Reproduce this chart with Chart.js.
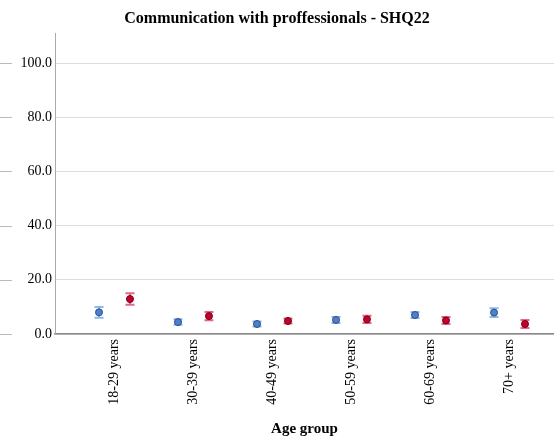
<!DOCTYPE html>
<html>
<head>
<meta charset="utf-8">
<script src="https://cdn.jsdelivr.net/npm/chart.js@4"></script>
<style>
  html, body { margin: 0; padding: 0; background: #fff; }
  #wrap { width: 554px; height: 441px; }
</style>
</head>
<body>
<div id="wrap"><canvas id="chart"></canvas></div>
<script>
// Age groups along the x axis
const categories = ['18-29 years', '30-39 years', '40-49 years', '50-59 years', '60-69 years', '70+ years'];

// Group means (%) and 95% CI half-widths
const blueMeans = [8.0, 4.4, 3.7, 5.2, 7.0, 7.9];
const blueErr = [2.0, 1.0, 0.9, 1.1, 1.1, 1.6];
const redMeans = [12.9, 6.6, 4.8, 5.4, 5.0, 3.7];
const redErr = [2.1, 1.5, 0.9, 1.3, 1.3, 1.5];

const yTicks = [0, 20, 40, 60, 80, 100];

const serif = '"Liberation Serif", "Times New Roman", serif';
const shift = 0.196;

function toPoints(vals, off) {
  return vals.map((v, i) => ({ x: i + off, y: v }));
}

// draws CI whiskers and the little outer dashes on the left
const extras = {
  id: 'extras',
  beforeDatasetsDraw(chart) {
    const ctx = chart.ctx;
    const xs = chart.scales.x, ys = chart.scales.y;
    const sets = [
      { m: blueMeans, e: blueErr, off: -shift, color: '#8fb8e6' },
      { m: redMeans, e: redErr, off: shift, color: '#e06a86' }
    ];
    ctx.save();
    ctx.lineWidth = 2;
    sets.forEach(s => {
      ctx.strokeStyle = s.color;
      s.m.forEach((v, i) => {
        const x = xs.getPixelForValue(i + s.off);
        const y1 = ys.getPixelForValue(v - s.e[i]);
        const y2 = ys.getPixelForValue(v + s.e[i]);
        ctx.beginPath();
        ctx.moveTo(x, y1); ctx.lineTo(x, y2);
        ctx.moveTo(x - 4.5, y1); ctx.lineTo(x + 4.5, y1);
        ctx.moveTo(x - 4.5, y2); ctx.lineTo(x + 4.5, y2);
        ctx.stroke();
      });
    });
    ctx.strokeStyle = '#bbbbbb';
    ctx.lineWidth = 1;
    yTicks.forEach(t => {
      const y = Math.round(ys.getPixelForValue(t)) + 0.5;
      ctx.beginPath();
      ctx.moveTo(0, y); ctx.lineTo(12, y);
      ctx.stroke();
    });
    ctx.restore();
  }
};

new Chart(document.getElementById('chart'), {
  type: 'scatter',
  data: {
    datasets: [
      {
        label: 'Group A',
        data: toPoints(blueMeans, -shift),
        backgroundColor: '#4a80cc',
        borderColor: '#2b4f86',
        borderWidth: 1,
        pointRadius: 3.5
      },
      {
        label: 'Group B',
        data: toPoints(redMeans, shift),
        backgroundColor: '#c4002c',
        borderColor: '#7a0019',
        borderWidth: 1,
        pointRadius: 3.5
      }
    ]
  },
  options: {
    responsive: true,
    maintainAspectRatio: false,
    animation: false,
    layout: { padding: 0, autoPadding: false },
    plugins: {
      legend: { display: false },
      tooltip: { enabled: false },
      title: {
        display: true,
        text: 'Communication with proffessionals - SHQ22',
        color: '#000',
        font: { family: serif, size: 16, weight: 'bold' },
        padding: { top: 9, bottom: 5 }
      }
    },
    scales: {
      x: {
        type: 'linear',
        min: -0.753,
        max: 5.563,
        afterBuildTicks(axis) {
          axis.ticks = categories.map((c, i) => ({ value: i }));
        },
        afterFit(axis) {
          axis.height = 107;
          axis.paddingLeft = 0;
          axis.paddingRight = 0;
        },
        grid: { display: false, drawTicks: false },
        border: { color: '#888888', width: 1.5 },
        ticks: {
          autoSkip: false,
          minRotation: 90,
          maxRotation: 90,
          padding: 5,
          color: '#000',
          font: { family: serif, size: 14 },
          callback: (v) => categories[Math.round(v)]
        },
        title: {
          display: true,
          text: 'Age group',
          color: '#000',
          font: { family: serif, size: 15, weight: 'bold' },
          padding: { top: 4, bottom: 3 }
        }
      },
      y: {
        min: 0,
        max: 111,
        afterBuildTicks(axis) {
          axis.ticks = yTicks.map(v => ({ value: v }));
        },
        afterFit(axis) { axis.width = 55; },
        grid: { color: '#dddddd', drawTicks: false },
        border: { color: '#aaaaaa', width: 1 },
        ticks: {
          padding: 3,
          color: '#000',
          font: { family: serif, size: 14 },
          callback: (v) => v.toFixed(1)
        }
      }
    }
  },
  plugins: [extras]
});
</script>
</body>
</html>
